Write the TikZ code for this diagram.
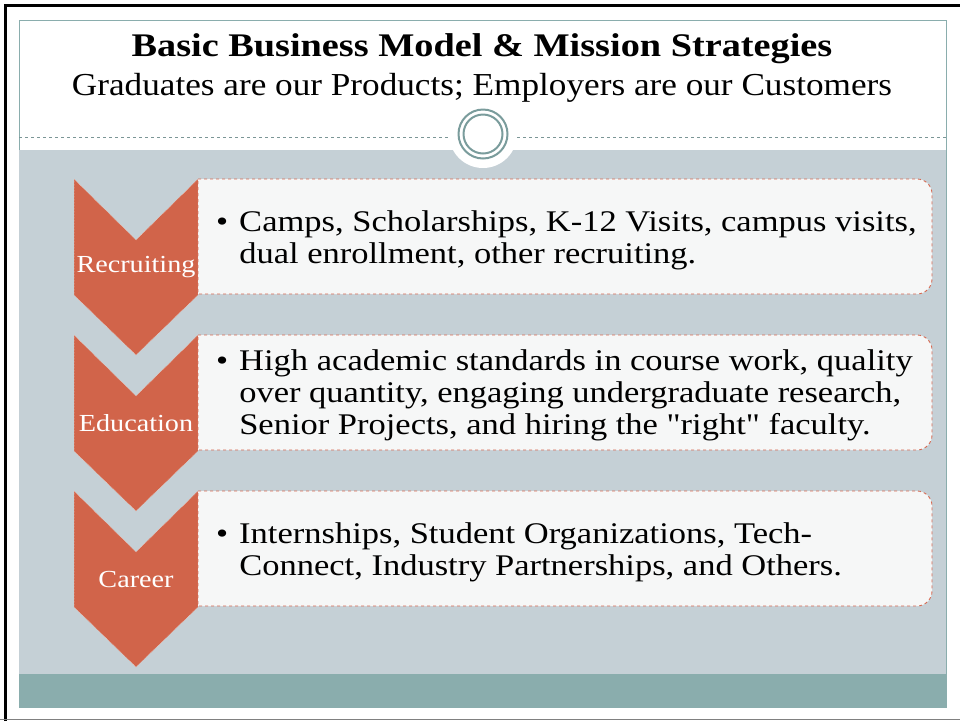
\documentclass[tikz,border=0pt]{standalone}
\usepackage{fontspec}
\setmainfont{Liberation Serif}
\newfontfamily\bodyfont[FakeStretch=1.15]{Liberation Serif}
\newfontfamily\titlefont[FakeStretch=1.16]{Liberation Serif}
\newfontfamily\subfont[FakeStretch=1.10]{Liberation Serif}
\usepackage{tikz}
\usetikzlibrary{calc}
\definecolor{chev}{RGB}{209,100,74}
\definecolor{slidebg}{RGB}{197,208,214}
\definecolor{tealbar}{RGB}{138,173,173}
\definecolor{ring}{RGB}{122,156,156}
\definecolor{boxline}{RGB}{214,104,80}
\definecolor{boxfill}{RGB}{246,247,247}
\def\chevron(#1){\draw[fill=chev, draw=white!70!chev, densely dotted, line width=0.5pt] (74,#1) -- (136,{#1+61}) -- (198,#1) -- (198,{#1+116}) -- (136,{#1+176}) -- (74,{#1+116}) -- cycle;}
\def\itembox(#1){\draw[fill=boxfill, draw=boxline, dashed, line width=0.9pt] (198,#1) -- (917,#1) arc (-90:0:15) -- (932,{#1+100}) arc (0:90:15) -- (198,{#1+115}) -- cycle;}

\begin{document}
\begin{tikzpicture}[x=1pt, y=-1pt,
	lbl/.style={text=white, font=\bodyfont\fontsize{24.5}{29}\selectfont, inner sep=0pt},
	item/.style={anchor=west, font=\bodyfont\fontsize{30}{32}\selectfont, inner sep=0pt},
	head/.style={anchor=base, inner sep=0pt}]
		\useasboundingbox (0,0) rectangle (960,721);
		%%%%% START %%%%%
		\fill[white] (0,0) rectangle (960,721);
		\draw[line width=3pt] (5,721) -- (5,5) -- (960,5);
		\draw[gray, line width=1.5pt] (0,719.5) -- (960,719.5);
		
		\draw[draw=tealbar, fill=white, line width=0.8pt] (19,20) rectangle (946,707);
		\fill[slidebg] (19.4,150) rectangle (945.6,674);
		\fill[tealbar] (19.4,674) rectangle (945.6,706.6);
		
		\node[head, font=\titlefont\bfseries\fontsize{33}{36}\selectfont] (title) at (482,56) {Basic Business Model \& Mission Strategies};
		\node[head, font=\subfont\fontsize{32}{36}\selectfont] (subtitle) at (482,95) {Graduates are our Products; Employers are our Customers};
		
		\draw[ring!80!gray, dashed, line width=0.6pt] (19,137) -- (946,137);
		\fill[white] (483,134) circle (34);
		\draw[ring, line width=2pt] (483,134) circle (24.5);
		\draw[ring, line width=2pt] (483,134) circle (19.5);
		
		\chevron(179)
		\chevron(335)
		\chevron(491)
		
		\itembox(179)
		\itembox(335)
		\itembox(491)
		
		\node[lbl] (recruiting) at (136,267) {Recruiting};
		\node[lbl] (education) at (136,423) {Education};
		\node[lbl] (career) at (136,579) {Career};
		
		\node[item] (recruitingtext) at (216,241) {\begin{tabular}{@{}l@{\hspace{11pt}}l@{}}
			\textbullet & Camps, Scholarships, K-12 Visits, campus visits,\\
			& dual enrollment, other recruiting.\end{tabular}};
		\node[item] (educationtext) at (216,396) {\begin{tabular}{@{}l@{\hspace{11pt}}l@{}}
			\textbullet & High academic standards in course work, quality\\
			& over quantity, engaging undergraduate research,\\
			& Senior Projects, and hiring the "right" faculty.\end{tabular}};
		\node[item] (careertext) at (216,553) {\begin{tabular}{@{}l@{\hspace{11pt}}l@{}}
			\textbullet & Internships, Student Organizations, Tech-\\
			& Connect, Industry Partnerships, and Others.\end{tabular}};
		%%%%% END %%%%%
\end{tikzpicture}
\end{document}
